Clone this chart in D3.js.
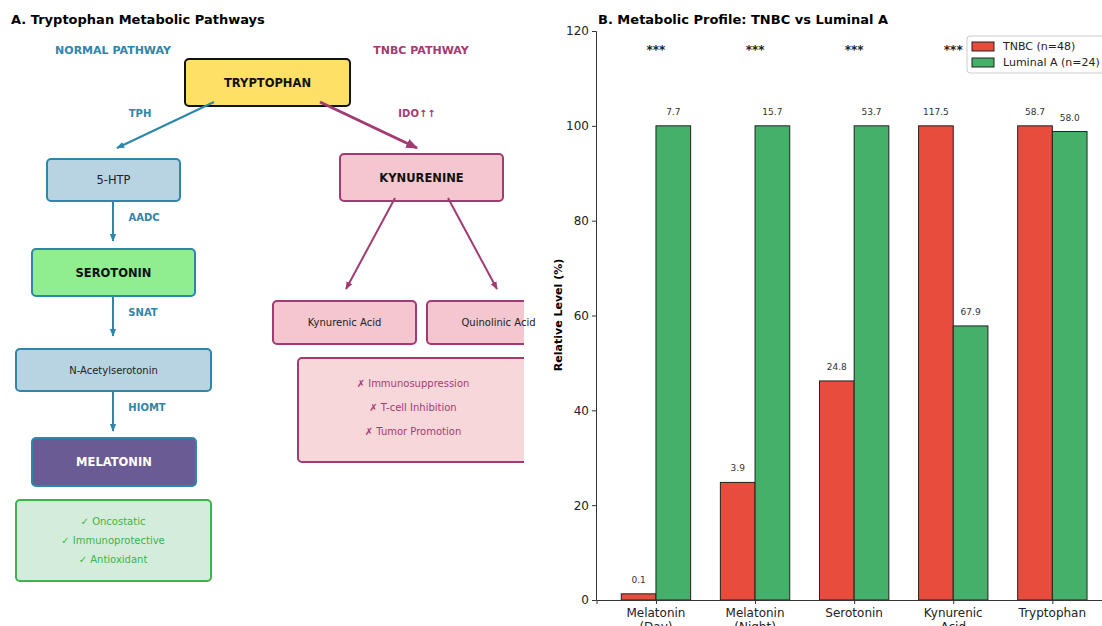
<!DOCTYPE html>
<html>
<head>
<meta charset="utf-8">
<script src="https://cdn.jsdelivr.net/npm/d3@7"></script>
<style>
  body { margin: 0; background: #fff; }
  text { font-family: "DejaVu Sans", sans-serif; }
</style>
</head>
<body>
<div id="chart"></div>
<script>
'use strict'

// bar chart data (panel B)
const categories = ["Melatonin\n(Day)", "Melatonin\n(Night)", "Serotonin", "Kynurenic\nAcid", "Tryptophan"];
const tnbcLevel = [1.3, 24.8, 46.2, 100, 100];
const luminalLevel = [100, 100, 100, 57.8, 98.8];
const tnbcValues = ["0.1", "3.9", "24.8", "117.5", "58.7"];
const luminalValues = ["7.7", "15.7", "53.7", "67.9", "58.0"];
const significance = ["***", "***", "***", "***", "ns"];
const yTicks = [0, 20, 40, 60, 80, 100, 120];
const seriesNames = ["TNBC (n=48)", "Luminal A (n=24)"];

const blue = '#2E86AB';
const plum = '#A23B72';
const red = '#E74C3C';
const green = '#45B06A';

const svg = d3.select('#chart').append('svg')
  .attr('width', 1102)
  .attr('height', 626);

// ---------- Panel A: pathway diagram ----------
const defs = svg.append('defs');
[['blueHead', blue], ['plumHead', plum]].forEach(function(m) {
  defs.append('marker')
    .attr('id', m[0])
    .attr('viewBox', '0 0 10 10')
    .attr('refX', 9).attr('refY', 5)
    .attr('markerWidth', 4).attr('markerHeight', 4)
    .attr('markerUnits', 'strokeWidth')
    .attr('orient', 'auto')
    .append('path')
    .attr('d', 'M0,1 L10,5 L0,9 z')
    .attr('fill', m[1]);
});
defs.append('clipPath').attr('id', 'leftClip')
  .append('rect').attr('x', 0).attr('y', 0).attr('width', 524).attr('height', 626);

svg.append('text')
  .attr('x', 11).attr('y', 24)
  .style('font-size', '13px').style('font-weight', 'bold')
  .text('A. Tryptophan Metabolic Pathways');

svg.append('text').attr('x', 113).attr('y', 54)
  .attr('text-anchor', 'middle')
  .style('font-size', '11px').style('font-weight', 'bold').style('fill', blue)
  .text('NORMAL PATHWAY');
svg.append('text').attr('x', 421).attr('y', 54)
  .attr('text-anchor', 'middle')
  .style('font-size', '11px').style('font-weight', 'bold').style('fill', plum)
  .text('TNBC PATHWAY');

var nodes = [
  {label: 'TRYPTOPHAN', x: 185, y: 59, w: 165, h: 47, fill: '#FFE066', stroke: '#111', sw: 2, bold: true, color: '#111'},
  {label: '5-HTP', x: 47, y: 159, w: 133, h: 42, fill: '#B8D4E3', stroke: blue, sw: 2, bold: false, color: '#222'},
  {label: 'KYNURENINE', x: 340, y: 154, w: 163, h: 47, fill: '#F4C6CF', stroke: plum, sw: 2, bold: true, color: '#111'},
  {label: 'SEROTONIN', x: 32, y: 249, w: 163, h: 47, fill: '#90EE90', stroke: blue, sw: 2, bold: true, color: '#111'},
  {label: 'N-Acetylserotonin', x: 16, y: 349, w: 195, h: 42, fill: '#B8D4E3', stroke: blue, sw: 2, bold: false, color: '#222', size: 10},
  {label: 'Kynurenic Acid', x: 273, y: 301, w: 143, h: 43, fill: '#F4C6CF', stroke: plum, sw: 2, bold: false, color: '#222', size: 10},
  {label: 'Quinolinic Acid', x: 427, y: 301, w: 143, h: 43, fill: '#F4C6CF', stroke: plum, sw: 2, bold: false, color: '#222', size: 10},
  {label: 'MELATONIN', x: 32, y: 438, w: 164, h: 48, fill: '#6B5B95', stroke: blue, sw: 2, bold: true, color: '#fff'}
];

var boxes = svg.append('g').attr('clip-path', 'url(#leftClip)');
boxes.selectAll('rect.node')
  .data(nodes)
  .enter().append('rect')
  .attr('class', 'node')
  .attr('x', function(d) { return d.x; })
  .attr('y', function(d) { return d.y; })
  .attr('width', function(d) { return d.w; })
  .attr('height', function(d) { return d.h; })
  .attr('rx', 4)
  .style('fill', function(d) { return d.fill; })
  .style('stroke', function(d) { return d.stroke; })
  .style('stroke-width', function(d) { return d.sw; });

svg.selectAll('text.node')
  .data(nodes)
  .enter().append('text')
  .attr('class', 'node')
  .attr('x', function(d) { return d.x + d.w / 2; })
  .attr('y', function(d) { return d.y + d.h / 2; })
  .attr('dy', '0.35em')
  .attr('text-anchor', 'middle')
  .style('font-size', function(d) { return (d.size || 11.5) + 'px'; })
  .style('font-weight', function(d) { return d.bold ? 'bold' : 'normal'; })
  .style('fill', function(d) { return d.color; })
  .text(function(d) { return d.label; });

// note boxes
var notes = [
  {x: 16, y: 500, w: 195, h: 81, fill: '#D4EDDA', stroke: '#3CB44B', color: '#3CB44B',
   lines: ['✓ Oncostatic', '✓ Immunoprotective', '✓ Antioxidant'], cx: 113, first: 521, step: 19},
  {x: 298, y: 358, w: 230, h: 104, fill: '#F8D7DA', stroke: plum, color: plum,
   lines: ['✗ Immunosuppression', '✗ T-cell Inhibition', '✗ Tumor Promotion'], cx: 413, first: 383, step: 24}
];
notes.forEach(function(n) {
  boxes.append('rect')
    .attr('x', n.x).attr('y', n.y).attr('width', n.w).attr('height', n.h)
    .attr('rx', 4)
    .style('fill', n.fill).style('stroke', n.stroke).style('stroke-width', 2);
  n.lines.forEach(function(t, i) {
    svg.append('text')
      .attr('x', n.cx)
      .attr('y', n.first + i * n.step)
      .attr('dy', '0.35em')
      .attr('text-anchor', 'middle')
      .style('font-size', '10px')
      .style('fill', n.color)
      .text(t);
  });
});

// arrows
var arrows = [
  {x1: 214, y1: 102, x2: 117, y2: 148, color: blue, w: 2, head: 'blueHead', label: 'TPH', lx: 140, ly: 113},
  {x1: 320, y1: 102, x2: 417, y2: 148, color: plum, w: 3, head: 'plumHead', label: 'IDO↑↑', lx: 417, ly: 113},
  {x1: 113, y1: 201, x2: 113, y2: 241, color: blue, w: 2, head: 'blueHead', label: 'AADC', lx: 144, ly: 217},
  {x1: 113, y1: 296, x2: 113, y2: 336, color: blue, w: 2, head: 'blueHead', label: 'SNAT', lx: 143, ly: 312},
  {x1: 113, y1: 391, x2: 113, y2: 431, color: blue, w: 2, head: 'blueHead', label: 'HIOMT', lx: 147, ly: 407},
  {x1: 395, y1: 198, x2: 346, y2: 289, color: plum, w: 2, head: 'plumHead'},
  {x1: 448, y1: 198, x2: 497, y2: 289, color: plum, w: 2, head: 'plumHead'}
];
svg.selectAll('line.arrow')
  .data(arrows)
  .enter().append('line')
  .attr('class', 'arrow')
  .attr('x1', function(d) { return d.x1; })
  .attr('y1', function(d) { return d.y1; })
  .attr('x2', function(d) { return d.x2; })
  .attr('y2', function(d) { return d.y2; })
  .style('stroke', function(d) { return d.color; })
  .style('stroke-width', function(d) { return d.w; })
  .attr('marker-end', function(d) { return 'url(#' + d.head + ')'; });

svg.selectAll('text.enzyme')
  .data(arrows.filter(function(d) { return d.label; }))
  .enter().append('text')
  .attr('class', 'enzyme')
  .attr('x', function(d) { return d.lx; })
  .attr('y', function(d) { return d.ly; })
  .attr('dy', '0.35em')
  .attr('text-anchor', 'middle')
  .style('font-size', '10px').style('font-weight', 'bold')
  .style('fill', function(d) { return d.color; })
  .text(function(d) { return d.label; });

// ---------- Panel B: bar chart ----------
const xScale = d3.scaleLinear()
  .domain([-0.6, 4.6])
  .range([596.5, 1111.8]);
const yScale = d3.scaleLinear()
  .domain([0, 120])
  .range([600, 31]);
const barW = 0.35;

var chart = svg.append('g');

svg.append('text')
  .attr('x', 598).attr('y', 24)
  .style('font-size', '13px').style('font-weight', 'bold')
  .text('B. Metabolic Profile: TNBC vs Luminal A');

function drawBars(levels, offset, color) {
  chart.append('g').selectAll('rect')
    .data(levels)
    .enter().append('rect')
    .attr('x', function(d, i) { return xScale(i + offset); })
    .attr('width', xScale(barW) - xScale(0))
    .attr('y', function(d) { return yScale(d); })
    .attr('height', function(d) { return yScale(0) - yScale(d); })
    .style('fill', color)
    .style('stroke', '#222')
    .style('stroke-width', 1);
}
drawBars(tnbcLevel, -barW, red);
drawBars(luminalLevel, 0, green);

function drawValues(levels, labels, offset) {
  chart.append('g').selectAll('text')
    .data(levels)
    .enter().append('text')
    .attr('x', function(d, i) { return xScale(i + offset + barW / 2); })
    .attr('y', function(d) { return yScale(d) - 11; })
    .attr('text-anchor', 'middle')
    .style('font-size', '9px')
    .style('fill', '#333')
    .text(function(d, i) { return labels[i]; });
}
drawValues(tnbcLevel, tnbcValues, -barW);
drawValues(luminalLevel, luminalValues, 0);

// significance marks
chart.append('g').selectAll('text')
  .data(significance)
  .enter().append('text')
  .attr('x', function(d, i) { return xScale(i); })
  .attr('y', yScale(116))
  .attr('dy', '0.35em')
  .attr('text-anchor', 'middle')
  .style('font-size', function(d) { return d === 'ns' ? '10px' : '12px'; })
  .style('font-weight', function(d) { return d === 'ns' ? 'normal' : 'bold'; })
  .style('fill', function(d) { return d === 'ns' ? '#aaa' : '#222'; })
  .text(function(d) { return d; });

// axes
var yAxis = d3.axisLeft(yScale).tickValues(yTicks).tickSize(4).tickPadding(3);
var yGuide = svg.append('g').attr('transform', 'translate(596,0)').call(yAxis);
yGuide.selectAll('text').style('font-size', '12px').style('fill', '#222');
yGuide.selectAll('path, line').style('stroke', '#333');

var xAxis = d3.axisBottom(xScale).tickValues(d3.range(categories.length)).tickSize(4).tickFormat('');
var xGuide = svg.append('g').attr('transform', 'translate(0,600)').call(xAxis);
xGuide.selectAll('path, line').style('stroke', '#333');

svg.append('g').selectAll('text')
  .data(categories)
  .enter().append('text')
  .attr('x', function(d, i) { return xScale(i); })
  .attr('y', 617)
  .attr('text-anchor', 'middle')
  .style('font-size', '12px')
  .style('fill', '#222')
  .each(function(d) {
    var t = d3.select(this);
    d.split('\n').forEach(function(line, k) {
      t.append('tspan')
        .attr('x', t.attr('x'))
        .attr('dy', k === 0 ? 0 : 14)
        .text(line);
    });
  });

svg.append('text')
  .attr('transform', 'rotate(-90)')
  .attr('x', -315).attr('y', 562)
  .attr('text-anchor', 'middle')
  .style('font-size', '11px').style('font-weight', 'bold')
  .text('Relative Level (%)');

// legend
var legend = svg.append('g').attr('transform', 'translate(967,36)');
legend.append('rect')
  .attr('width', 145).attr('height', 37).attr('rx', 3)
  .style('fill', '#fff').style('fill-opacity', 0.8)
  .style('stroke', '#ccc');
[red, green].forEach(function(c, i) {
  legend.append('rect')
    .attr('x', 5).attr('y', 6 + i * 16)
    .attr('width', 22).attr('height', 9)
    .style('fill', c).style('stroke', '#222');
  legend.append('text')
    .attr('x', 36).attr('y', 10.5 + i * 16)
    .attr('dy', '0.35em')
    .style('font-size', '11px').style('fill', '#222')
    .text(seriesNames[i]);
});
</script>
</body>
</html>
